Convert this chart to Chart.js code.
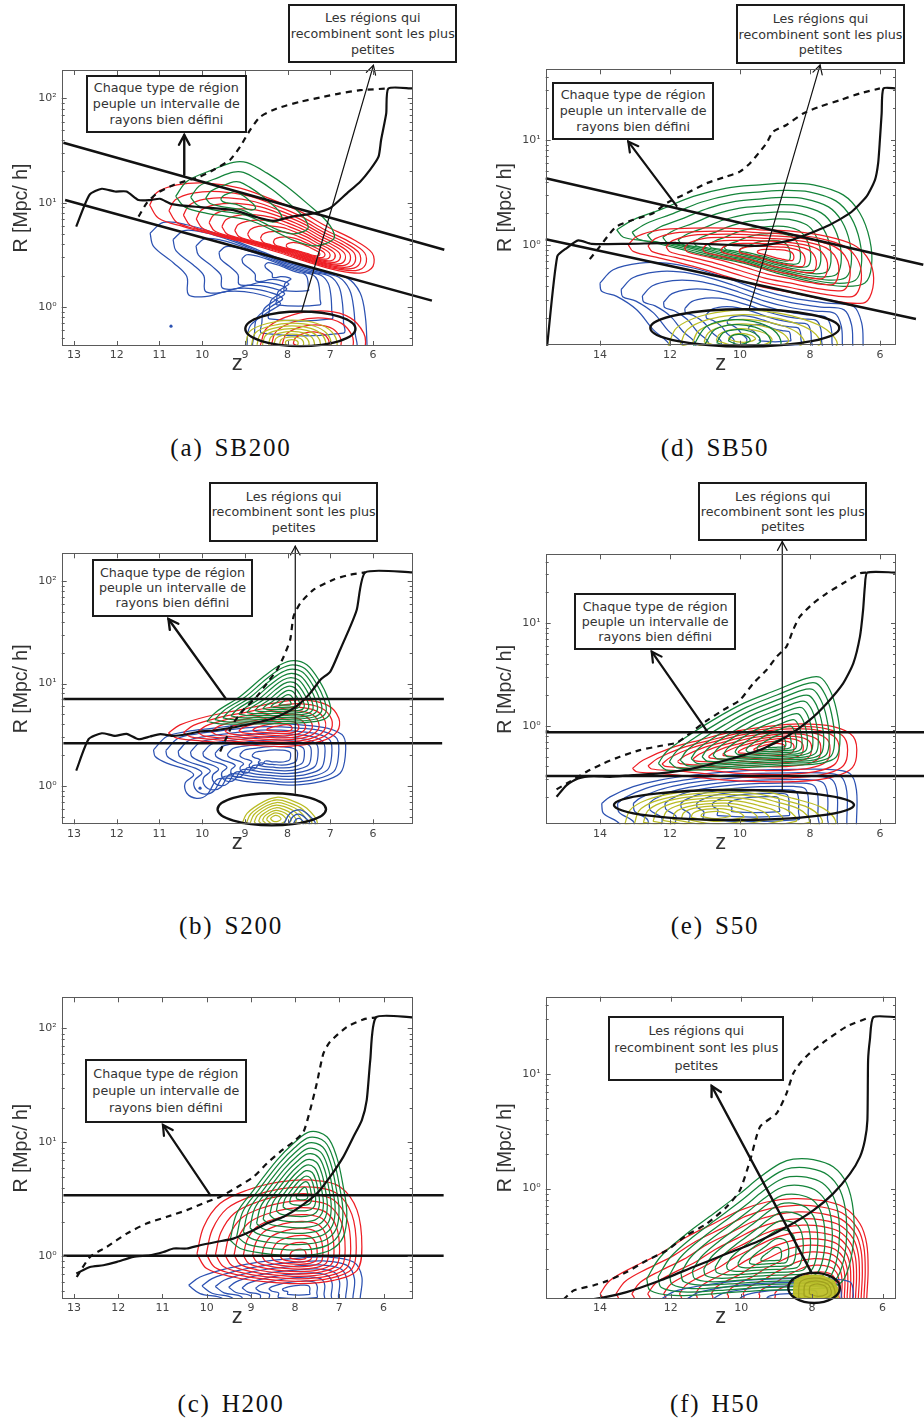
<!DOCTYPE html>
<html><head><meta charset="utf-8">
<script src="https://cdn.jsdelivr.net/npm/chart.js@4.4.0/dist/chart.umd.min.js"></script>
<style>
body{margin:0;background:#fff;width:924px;height:1425px;position:relative;overflow:hidden;}
.box{position:absolute;box-sizing:border-box;border:2px solid #1a1a1a;background:#fff;display:flex;flex-direction:column;justify-content:center;align-items:center;font-family:'DejaVu Sans';font-size:12.7px;color:#333;white-space:nowrap;overflow:visible;}
.cap{position:absolute;width:240px;text-align:center;font-family:'Liberation Serif';font-size:25px;line-height:30px;color:#111;letter-spacing:1.8px;word-spacing:3px;}
</style></head><body>
<script>
// ---------- tick values ----------
const xTicksLeft = [13,12,11,10,9,8,7,6];
const xTicksRight = [14,12,10,8,6];
const yTicksLeft = [0.5,0.6,0.7,0.8,0.9,1,2,3,4,5,6,7,8,9,10,20,30,40,50,60,70,80,90,100];
const yTicksRight = [0.2,0.3,0.4,0.5,0.6,0.7,0.8,0.9,1,2,3,4,5,6,7,8,9,10,20,30,40];
const yDecadeLabels = {0.1:'10⁻¹',1:'10⁰',10:'10¹',100:'10²'};

// ---------- panel (a) SB200 ----------
const a_solid = [[12.95,5.9],[12.64,11.9],[12.35,13.6],[12.04,12.8],[11.77,12.8],[11.49,10.6],[11.22,10.6],[10.99,10.9],[10.71,9.7],[10.05,9.06],[9.27,8.5],[8.80,7.4],[8.33,6.7],[7.86,7.4],[7.39,7.9],[7.0,8.9],[6.61,12.3],[6.30,15.9],[6.07,20.6],[5.87,27.6],[5.81,39.9],[5.69,71.8],[5.64,124.7],[5.07,124.7]];
const a_dashed = [[11.49,7.36],[11.30,9.9],[11.06,12.3],[10.67,14.8],[10.05,17.8],[9.74,20.6],[9.35,25.7],[9.11,34.5],[8.88,49.8],[8.64,66.7],[8.25,80.2],[7.71,92.8],[7.24,102],[6.77,112],[6.30,120],[5.64,124.7]];
const a_lineUpper = [[13.25,37.6],[4.33,3.53]];
const a_lineLower = [[13.21,10.6],[4.62,1.15]];
const a_red = [[11.23,9.5],[11.06,12.5],[10.59,14.8],[9.89,15.4],[9.11,13.8],[8.33,10.6],[7.70,8.2],[7.08,5.9],[6.45,4.41],[6.02,3.29],[6.0,2.45],[6.26,2.12],[6.84,2.24],[7.47,2.64],[8.17,3.29],[8.95,4.1],[9.73,4.92],[10.44,5.9],[11.02,7.1]];
const a_green = [[10.62,11.5],[10.36,16.0],[9.73,20.9],[9.27,24.4],[8.95,24.2],[8.48,19.2],[8.02,14.3],[7.55,9.9],[7.08,6.6],[6.90,4.75],[7.04,4.16],[7.39,3.86],[7.86,4.35],[8.33,5.4],[8.88,6.75],[9.42,7.4],[9.89,7.9],[10.40,9.06]];
const a_blue = [[11.22,5.1],[10.91,6.46],[10.36,6.14],[9.58,4.92],[8.80,3.67],[8.02,2.74],[7.23,2.19],[6.61,1.90],[6.30,1.36],[6.18,0.814],[6.14,0.427],[6.14,0.3],[8.95,0.3],[8.95,0.427],[8.88,0.653],[8.48,0.877],[8.17,1.09],[8.80,1.36],[9.42,1.41],[9.89,1.26],[10.32,1.31],[10.36,1.96],[10.67,2.64],[11.14,3.81]];
const a_yellow = [[8.99,0.427],[8.88,0.585],[8.48,0.693],[7.90,0.745],[7.31,0.693],[6.96,0.573],[6.84,0.427],[7.0,0.313],[7.90,0.27],[8.80,0.313]];
const a_redLow = [[8.64,0.427],[8.48,0.63],[7.86,0.845],[7.08,0.91],[6.53,0.785],[6.22,0.564],[6.18,0.427],[6.30,0.313],[7.70,0.27]];
const a_blueDot = [[10.73,0.653]];

// ---------- panel (b) S200 ----------
const b_solid = [[12.95,1.41],[12.66,2.86],[12.35,3.27],[12.04,3.08],[11.77,3.23],[11.49,2.86],[11.22,3.04],[10.98,3.2],[10.67,3.08],[10.36,3.2],[10.05,3.4],[9.73,3.48],[9.27,3.72],[8.80,4.1],[8.33,4.59],[7.94,5.46],[7.70,6.44],[7.47,8.07],[7.23,10.9],[7.0,13.1],[6.77,21.4],[6.53,36.2],[6.38,52.7],[6.18,122],[5.07,122]];
const b_dashed = [[9.58,2.17],[9.42,3.04],[9.27,4.1],[9.03,5.54],[8.72,7.48],[8.48,10.1],[8.25,13.6],[8.09,18.4],[7.94,26.8],[7.86,45.4],[7.70,61.3],[7.39,82.7],[6.92,104],[6.53,116],[6.18,122]];
const b_lineUpper = [[13.25,7.05],[4.34,7.05]];
const b_lineLower = [[13.25,2.61],[4.38,2.61]];
const b_green = [[9.89,4.26],[9.66,5.34],[9.11,7.48],[8.56,11.7],[8.17,15.3],[7.86,16.8],[7.55,15.3],[7.27,10.9],[7.04,6.94],[7.0,5.14],[7.23,4.36],[7.86,4.1],[8.80,4.04],[9.58,4.04]];
const b_red = [[10.79,3.28],[10.52,3.95],[9.89,4.77],[9.11,5.54],[8.33,6.44],[7.70,6.94],[7.08,6.2],[6.80,4.59],[6.84,3.4],[7.23,2.72],[8.02,2.43],[8.95,2.52],[9.89,2.72],[10.59,2.93]];
const b_blue = [[11.14,2.25],[10.83,3.04],[10.36,3.4],[9.73,3.67],[9.11,3.95],[8.48,4.1],[7.70,3.95],[7.08,3.67],[6.69,3.04],[6.65,1.94],[6.77,1.33],[7.23,1.10],[7.86,1.02],[8.48,1.06],[8.95,1.10],[9.42,1.19],[9.66,1.15],[9.89,0.817],[10.13,0.757],[10.36,0.848],[10.40,1.06],[10.20,1.28],[10.36,1.44],[10.83,1.67],[11.10,1.94]];
const b_yellow = [[9.07,0.421],[8.95,0.54],[8.56,0.703],[8.25,0.775],[7.94,0.73],[7.55,0.605],[7.31,0.421],[7.86,0.296],[8.56,0.296]];
const b_blueLow = [[8.09,0.421],[7.94,0.54],[7.70,0.582],[7.47,0.501],[7.35,0.421],[7.70,0.319]];
const b_blueDot = [[10.05,0.95]];

// ---------- panel (c) H200 ----------
const c_solid = [[12.95,0.705],[12.64,0.805],[12.34,0.834],[12.03,0.892],[11.66,0.987],[11.28,1.02],[10.98,1.09],[10.75,1.17],[10.45,1.17],[10.15,1.25],[9.77,1.34],[9.40,1.43],[9.02,1.64],[8.64,1.94],[8.26,2.22],[7.89,2.71],[7.51,3.55],[7.21,4.98],[6.91,7.46],[6.68,11.2],[6.49,15.7],[6.38,23.5],[6.30,52.7],[6.17,125],[5.34,125]];
const c_dashed = [[12.94,0.658],[12.64,0.987],[12.26,1.21],[11.81,1.58],[11.36,1.94],[10.90,2.22],[10.45,2.54],[10.0,3.0],[9.70,3.32],[9.24,4.2],[8.94,4.98],[8.64,6.52],[8.34,8.26],[8.04,10.1],[7.81,12.4],[7.66,19.2],[7.51,32.9],[7.36,60.3],[7.21,76.3],[6.83,103],[6.45,120],[6.17,125]];
const c_lineUpper = [[13.24,3.44],[4.64,3.44]];
const c_lineLower = [[13.24,1.01],[4.64,1.01]];
const c_green = [[9.47,1.38],[9.32,2.37],[8.94,3.8],[8.41,6.97],[8.04,9.77],[7.66,12.4],[7.28,11.2],[7.06,7.46],[6.91,4.06],[6.83,2.37],[6.91,1.48],[7.21,1.13],[7.74,1.02],[8.26,1.02],[8.79,1.07],[9.24,1.17]];
const c_red = [[10.22,1.05],[10.07,1.81],[9.70,2.9],[9.09,3.8],[8.34,4.5],[7.59,4.65],[6.98,4.06],[6.60,2.54],[6.49,1.21],[6.60,0.753],[7.13,0.615],[7.89,0.575],[8.64,0.595],[9.40,0.658],[10.0,0.78]];
const c_blue = [[10.41,0.556],[10.15,0.658],[9.55,0.78],[8.79,0.892],[8.04,0.954],[7.28,0.987],[6.68,0.892],[6.49,0.658],[6.53,0.419],[6.53,0.3],[9.62,0.3],[9.62,0.419],[10.15,0.47]];

// ---------- panel (d) SB50 ----------
const d_solid = [[15.52,0.1],[15.22,0.774],[14.95,0.93],[14.62,1.10],[14.24,1.02],[13.24,1.02],[11.81,1.04],[10.38,1.0],[9.43,0.98],[8.48,1.12],[7.52,1.50],[6.86,2.0],[6.38,2.89],[6.14,4.16],[6.05,6.0],[6.0,10],[5.95,17.9],[5.90,31.0],[5.54,31.0]];
const d_dashed = [[14.29,0.73],[14.0,0.964],[13.71,1.29],[13.52,1.50],[13.05,1.73],[12.48,2.0],[12.10,2.49],[11.52,3.1],[10.95,3.87],[10.38,4.48],[10.0,4.99],[9.71,6.0],[9.43,7.74],[9.24,9.3],[9.05,12.0],[8.67,13.9],[8.19,17.9],[7.71,20.8],[7.14,24.0],[6.57,27.8],[6.0,31.0]];
const d_lineUpper = [[15.55,4.31],[4.76,0.645]];
const d_lineLower = [[15.55,1.13],[4.97,0.196]];
const d_green = [[13.52,1.39],[13.05,1.73],[12.29,2.15],[11.33,2.89],[10.38,3.47],[9.43,3.73],[8.67,3.87],[7.90,3.73],[7.05,2.99],[6.57,2.0],[6.29,1.12],[6.24,0.622],[6.43,0.431],[7.05,0.401],[8.0,0.448],[8.95,0.537],[9.90,0.669],[10.86,0.774],[11.81,0.93],[12.67,1.08],[13.33,1.18]];
const d_red = [[13.19,1.0],[12.95,1.2],[12.29,1.39],[11.33,1.44],[10.38,1.44],[9.43,1.39],[8.48,1.34],[7.52,1.2],[6.76,1.0],[6.38,0.774],[6.19,0.537],[6.24,0.347],[6.48,0.278],[7.52,0.299],[8.48,0.347],[9.43,0.401],[10.38,0.5],[11.33,0.622],[12.29,0.746],[13.05,0.865]];
const d_blue = [[14.0,0.431],[13.62,0.578],[12.86,0.669],[12.10,0.669],[11.33,0.6],[10.38,0.482],[9.43,0.373],[8.48,0.31],[7.52,0.278],[6.76,0.259],[6.52,0.179],[6.48,0.109],[6.48,0.07],[12.0,0.07],[12.0,0.109],[12.48,0.155],[12.95,0.24],[13.52,0.322],[13.95,0.36]];
const d_yellow = [[12.05,0.109],[11.81,0.161],[11.14,0.208],[10.19,0.237],[9.24,0.232],[8.29,0.2],[7.52,0.155],[7.24,0.109],[8.48,0.0746],[10.38,0.0746]];
const d_greenLow = [[11.33,0.109],[10.95,0.167],[10.19,0.193],[9.43,0.179],[8.95,0.144],[8.86,0.109],[10.1,0.08]];

// ---------- panel (e) S50 ----------
const e_solid = [[15.24,0.202],[14.95,0.263],[14.62,0.306],[14.19,0.322],[13.71,0.317],[13.05,0.33],[12.29,0.342],[11.33,0.383],[10.38,0.462],[9.43,0.578],[8.67,0.781],[8.0,1.14],[7.52,1.65],[7.05,2.59],[6.76,4.06],[6.57,7.41],[6.48,13.5],[6.43,22.8],[6.36,31.3],[5.54,31.3]];
const e_dashed = [[15.24,0.239],[14.86,0.284],[14.38,0.355],[13.90,0.428],[13.43,0.498],[12.86,0.578],[12.29,0.633],[11.81,0.682],[11.43,0.842],[10.95,1.12],[10.48,1.42],[10.0,1.78],[9.62,2.59],[9.24,3.5],[8.95,4.72],[8.67,5.92],[8.48,8.61],[8.29,11.6],[7.90,15.7],[7.52,19.6],[7.05,24.6],[6.57,30.8],[6.36,31.3]];
const e_lineUpper = [[15.55,0.861],[4.74,0.861]];
const e_lineLower = [[15.55,0.322],[4.74,0.322]];
const e_green = [[12.33,0.428],[12.10,0.557],[11.52,0.781],[10.76,1.14],[9.90,1.65],[8.95,2.23],[8.10,2.9],[7.71,2.97],[7.43,2.23],[7.24,1.42],[7.14,0.781],[7.24,0.498],[7.71,0.428],[8.48,0.413],[9.43,0.397],[10.38,0.383],[11.33,0.369],[12.10,0.369]];
const e_red = [[13.07,0.383],[12.76,0.462],[12.0,0.601],[11.14,0.724],[10.19,0.874],[9.24,0.978],[8.29,1.04],[7.33,0.978],[6.76,0.781],[6.67,0.498],[6.86,0.369],[7.52,0.306],[8.48,0.284],[9.43,0.284],[10.38,0.294],[11.33,0.317],[12.29,0.342],[12.95,0.355]];
const e_blue = [[13.95,0.174],[13.71,0.202],[13.05,0.254],[12.29,0.294],[11.33,0.33],[10.38,0.355],[9.43,0.369],[8.48,0.374],[7.52,0.374],[6.86,0.342],[6.67,0.235],[6.67,0.1086],[6.67,0.07],[13.43,0.07],[13.43,0.1086],[13.90,0.139]];
const e_yellow = [[13.29,0.1086],[13.14,0.15],[12.67,0.188],[11.90,0.218],[10.95,0.235],[10.0,0.239],[9.24,0.226],[8.48,0.195],[7.71,0.162],[7.33,0.129],[7.29,0.1086],[10.38,0.0763]];

// ---------- panel (f) H50 ----------
const f_solid = [[14.6,0.104],[14.0,0.111],[13.25,0.125],[12.30,0.158],[11.36,0.207],[10.42,0.27],[9.47,0.353],[8.72,0.462],[7.96,0.646],[7.40,0.904],[6.92,1.35],[6.64,1.89],[6.50,2.65],[6.43,3.96],[6.41,13.2],[6.36,19.8],[6.26,31.3],[5.62,31.3]];
const f_dashed = [[15.04,0.1076],[14.75,0.129],[14.19,0.143],[13.81,0.156],[13.25,0.187],[12.68,0.236],[12.11,0.289],[11.55,0.391],[10.98,0.494],[10.42,0.691],[10.04,0.966],[9.75,1.77],[9.47,3.46],[9.0,4.53],[8.72,6.78],[8.53,10.1],[8.34,12.4],[8.06,15.2],[7.58,19.8],[7.02,25.9],[6.36,31.3]];
const f_green = [[12.68,0.163],[12.30,0.252],[11.55,0.404],[10.79,0.604],[10.04,0.904],[9.47,1.26],[8.91,1.65],[8.53,1.81],[7.96,1.79],[7.40,1.55],[7.02,1.11],[6.83,0.646],[6.83,0.33],[7.02,0.181],[7.30,0.143],[8.06,0.133],[9.47,0.129],[10.79,0.121],[11.92,0.117],[12.58,0.129]];
const f_red = [[14.0,0.121],[13.72,0.158],[13.06,0.207],[12.30,0.27],[11.55,0.378],[10.79,0.494],[10.04,0.646],[9.28,0.764],[8.53,0.818],[7.77,0.791],[7.11,0.691],[6.64,0.494],[6.45,0.33],[6.41,0.193],[6.45,0.1076],[6.45,0.08],[13.91,0.08],[13.91,0.1076]];
const f_blue = [[12.30,0.1076],[11.83,0.129],[10.42,0.153],[9.0,0.163],[7.58,0.163],[6.92,0.153],[6.83,0.121],[6.88,0.1076],[9.47,0.0807]];
const f_yellow = [[8.53,0.1076],[8.48,0.158],[8.15,0.175],[7.77,0.175],[7.40,0.158],[7.25,0.129],[7.30,0.1076],[7.9,0.095]];

// ---------- colours ----------
const RED='rgb(238,30,36)', GREEN='rgb(20,132,58)', BLUE='rgb(44,82,178)', YELLOW='rgb(186,188,36)', BLACK='#111';

// nested contour levels: outline, shrunk toward the peak
function rings(outer, peak, scales, color, w){
  const Lc = Math.log10(peak[1]);
  return scales.map(s => {
    const pts = outer.map(([z,R]) => ({x: peak[0] + (z-peak[0])*s, y: Math.pow(10, Lc + (Math.log10(R)-Lc)*s)}));
    pts.push(pts[0]);
    return {data: pts, showLine:true, borderColor:color, borderWidth:w||1.25, pointRadius:0, tension:0.35, fill:false};
  });
}
function curve(arr, color, w, dash, noclip){
  const ds = {data: arr.map(([x,y])=>({x,y})), showLine:true, borderColor:color, borderWidth:w, borderDash:dash||[], pointRadius:0, tension:0.2, fill:false};
  if (noclip) ds.clip = false;
  return ds;
}
function dot(arr, color){
  return {data: arr.map(([x,y])=>({x,y})), showLine:false, pointRadius:1.6, pointBackgroundColor:color, pointBorderWidth:0};
}

const panels = [
 { id:'a', cx:0, cy:0, area:[61.7,70,412.7,346], xr:[5.07,13.29], yr:[0.4217,187.5], xt:xTicksLeft, yt:yTicksLeft,
   layers:[ ...rings(a_blue,[7.86,2.12],[1,0.84,0.68,0.52,0.36,0.2],BLUE),
            ...rings(a_red,[7.47,3.29],[1,0.88,0.79,0.71,0.63,0.55,0.47,0.39,0.31,0.23,0.15],RED),
            ...rings(a_green,[9.27,10.6],[1,0.74,0.48,0.22],GREEN),
            ...rings(a_redLow,[7.47,0.453],[1,0.78,0.56,0.34],RED),
            ...rings(a_yellow,[7.90,0.453],[1,0.87,0.75,0.63,0.5,0.38,0.26,0.14],YELLOW),
            dot(a_blueDot,BLUE),
            curve(a_dashed,BLACK,2.2,[6,5]), curve(a_solid,BLACK,2.2),
            curve(a_lineUpper,BLACK,2.5,null,true), curve(a_lineLower,BLACK,2.5,null,true)],
   ellipses:[[7.70,0.616,1.29,0.166]],
   arrows:[[[10.42,18.5],[10.42,44.5],2.4],[[7.67,0.908],[5.99,208],1.2]] },
 { id:'b', cx:0, cy:470, area:[61.7,553.3,412.7,824.3], xr:[5.07,13.29], yr:[0.4217,187.5], xt:xTicksLeft, yt:yTicksLeft,
   layers:[ ...rings(b_blue,[8.25,1.94],[1,0.9,0.8,0.7,0.6,0.5,0.4,0.3,0.2],BLUE),
            ...rings(b_red,[8.09,3.6],[1,0.87,0.75,0.63,0.51,0.39,0.27,0.15],RED),
            ...rings(b_green,[8.02,6.44],[1,0.9,0.8,0.7,0.6,0.5,0.4,0.3,0.2,0.1],GREEN),
            ...rings(b_yellow,[8.29,0.483],[1,0.87,0.75,0.63,0.5,0.38,0.26,0.14],YELLOW),
            ...rings(b_blueLow,[7.74,0.438],[1,0.66,0.33],BLUE),
            dot(b_blueDot,BLUE),
            curve(b_dashed,BLACK,2.2,[6,5]), curve(b_solid,BLACK,2.2),
            curve(b_lineUpper,BLACK,2.5,null,true), curve(b_lineLower,BLACK,2.5,null,true)],
   ellipses:[[8.37,0.591,1.27,0.157]],
   arrows:[[[9.44,7.05],[10.79,42.8],2.4],[[7.82,0.847],[7.82,220],1.2]] },
 { id:'c', cx:0, cy:950, area:[61.7,997.3,412.7,1299], xr:[5.34,13.28], yr:[0.4217,187.5], xt:xTicksLeft, yt:yTicksLeft,
   layers:[ ...rings(c_blue,[7.89,0.502],[1,0.88,0.76,0.64,0.52,0.4,0.28,0.16],BLUE),
            ...rings(c_red,[7.89,0.987],[1,0.91,0.82,0.73,0.64,0.55,0.46,0.37,0.28,0.19,0.1],RED),
            ...rings(c_green,[7.81,3.55],[1,0.91,0.82,0.73,0.64,0.55,0.46,0.37,0.28,0.19,0.1],GREEN),
            curve(c_dashed,BLACK,2.2,[6,5]), curve(c_solid,BLACK,2.2),
            curve(c_lineUpper,BLACK,2.5,null,true), curve(c_lineLower,BLACK,2.5,null,true)],
   ellipses:[],
   arrows:[[[9.92,3.44],[10.99,14.2],2.2]] },
 { id:'d', cx:462, cy:0, area:[545.7,69.3,896,345.7], xr:[5.54,15.55], yr:[0.1089,47.2], xt:xTicksRight, yt:yTicksRight,
   layers:[ ...rings(d_blue,[8.95,0.134],[1,0.88,0.76,0.64,0.52,0.4,0.28,0.16],BLUE),
            ...rings(d_green,[9.14,0.803],[1,0.9,0.8,0.7,0.6,0.5,0.4,0.3,0.2],GREEN),
            ...rings(d_red,[8.86,0.833],[1,0.87,0.75,0.63,0.51,0.39,0.27,0.15],RED),
            ...rings(d_yellow,[10.0,0.129],[1,0.83,0.66,0.5,0.33,0.16],YELLOW),
            ...rings(d_greenLow,[10.0,0.125],[1,0.75,0.5,0.25],GREEN),
            curve(d_dashed,BLACK,2.2,[6,5]), curve(d_solid,BLACK,2.2),
            curve(d_lineUpper,BLACK,2.5,null,true), curve(d_lineLower,BLACK,2.5,null,true)],
   ellipses:[[9.86,0.161,2.70,0.178]],
   arrows:[[[11.81,2.35],[13.19,9.64],2.2],[[9.73,0.249],[7.71,51.8],1.2]] },
 { id:'e', cx:462, cy:470, area:[545.7,554.3,896,824.3], xr:[5.54,15.55], yr:[0.1089,47.2], xt:xTicksRight, yt:yTicksRight,
   layers:[ ...rings(e_blue,[9.43,0.174],[1,0.9,0.8,0.7,0.6,0.5,0.4,0.3,0.2],BLUE),
            ...rings(e_red,[9.05,0.624],[1,0.89,0.79,0.68,0.57,0.46,0.36,0.25,0.14],RED),
            ...rings(e_green,[8.86,0.647],[1,0.91,0.82,0.73,0.64,0.55,0.46,0.37,0.28,0.19,0.1],GREEN),
            ...rings(e_yellow,[10.76,0.134],[1,0.89,0.79,0.68,0.57,0.46,0.36,0.25,0.14],YELLOW),
            curve(e_dashed,BLACK,2.2,[6,5]), curve(e_solid,BLACK,2.2),
            curve(e_lineUpper,BLACK,2.5,null,true), curve(e_lineLower,BLACK,2.5,null,true)],
   ellipses:[[10.17,0.168,3.43,0.147]],
   arrows:[[[10.93,0.874],[12.52,5.28],2.2],[[8.79,0.235],[8.79,62.8],1.2]] },
 { id:'f', cx:462, cy:950, area:[545.7,996.7,896,1299], xr:[5.62,15.54], yr:[0.1089,47.2], xt:xTicksRight, yt:yTicksRight,
   layers:[ ...rings(f_red,[7.58,0.121],[1,0.93,0.86,0.79,0.72,0.65,0.58,0.51,0.44,0.37,0.3,0.23],RED),
            ...rings(f_blue,[8.53,0.113],[1,0.8,0.6,0.4,0.2],BLUE),
            ...rings(f_green,[9.09,0.252],[1,0.91,0.82,0.73,0.64,0.55,0.46,0.37,0.28,0.19,0.1],GREEN),
            Object.assign(curve(f_yellow.concat([f_yellow[0]]),YELLOW,1.2), {fill:'shape', backgroundColor:'rgba(190,192,40,0.95)'}),
            ...rings(f_yellow,[7.77,0.13],[0.8,0.6,0.4],'rgb(160,160,30)'),
            curve(f_dashed,BLACK,2.2,[6,5]), curve(f_solid,BLACK,2.2)],
   ellipses:[[7.94,0.136,0.73,0.131]],
   arrows:[[[8.01,0.184],[10.84,7.85],2.4]] }
];

const boxes = [
 [86,75,246.7,132.7,15.7,['Chaque type de région','peuple un intervalle de','rayons bien défini']],
 [288.3,4,457.3,63.3,15.8,['Les régions qui','recombinent sont les plus','petites']],
 [552.3,82.3,714,140,15.8,['Chaque type de région','peuple un intervalle de','rayons bien défini']],
 [736,4.3,905,64.3,15.5,['Les régions qui','recombinent sont les plus','petites']],
 [91.7,559.3,253.3,616.7,15,['Chaque type de région','peuple un intervalle de','rayons bien défini']],
 [209,482.3,378.3,541.7,15.3,['Les régions qui','recombinent sont les plus','petites']],
 [574.3,592.7,736,650,15,['Chaque type de région','peuple un intervalle de','rayons bien défini']],
 [698.3,482.3,867.3,540.7,15,['Les régions qui','recombinent sont les plus','petites']],
 [85,1059,246.7,1122.7,17,['Chaque type de région','peuple un intervalle de','rayons bien défini']],
 [608.3,1015.7,784.3,1081,17.8,['Les régions qui','recombinent sont les plus','petites']]
];
const captions = [[231,448,'(a) SB200'],[715,448,'(d) SB50'],[231,926,'(b) S200'],[715,926,'(e) S50'],[231,1404,'(c) H200'],[715,1404,'(f) H50']];

function arrowHead(ctx,x0,y0,x1,y1,len){
  const a = Math.atan2(y1-y0,x1-x0), sp = 0.5;
  ctx.beginPath();
  ctx.moveTo(x1 - len*Math.cos(a-sp), y1 - len*Math.sin(a-sp));
  ctx.lineTo(x1,y1);
  ctx.lineTo(x1 - len*Math.cos(a+sp), y1 - len*Math.sin(a+sp));
  ctx.stroke();
}

function makePanel(p){
  const W=462, H=400, YW=55, XH=35;
  const div = document.createElement('div');
  div.style.cssText = `position:absolute;left:${p.cx}px;top:${p.cy}px;width:${W}px;height:${H}px;`;
  const cv = document.createElement('canvas'); cv.width=W; cv.height=H;
  cv.style.width=W+'px'; cv.style.height=H+'px';
  div.appendChild(cv); document.body.appendChild(div);
  const pad = {left:p.area[0]-p.cx-YW, top:p.area[1]-p.cy, right:p.cx+W-p.area[2], bottom:p.cy+H-p.area[3]-XH};
  const frame = { id:'frame'+p.id, afterDraw(chart){
    const {ctx, chartArea:ca, scales:{x,y}} = chart;
    ctx.save(); ctx.strokeStyle='#5a5a5a'; ctx.lineWidth=1;
    ctx.strokeRect(Math.round(ca.left)+0.5, Math.round(ca.top)+0.5, Math.round(ca.right-ca.left)-1, Math.round(ca.bottom-ca.top)-1);
    ctx.beginPath();
    x.ticks.forEach(t=>{ const px=Math.round(x.getPixelForValue(t.value))+0.5;
      ctx.moveTo(px,ca.bottom); ctx.lineTo(px,ca.bottom-5); ctx.moveTo(px,ca.top); ctx.lineTo(px,ca.top+5); });
    y.ticks.forEach(t=>{ const py=Math.round(y.getPixelForValue(t.value))+0.5;
      const major = Math.abs(Math.log10(t.value)-Math.round(Math.log10(t.value)))<1e-6; const L = major?5:3;
      ctx.moveTo(ca.left,py); ctx.lineTo(ca.left+L,py); ctx.moveTo(ca.right,py); ctx.lineTo(ca.right-L,py); });
    ctx.stroke(); ctx.restore();
  }};
  const annot = { id:'annot'+p.id, afterDatasetsDraw(chart){
    const {ctx, scales:{x,y}} = chart;
    ctx.save(); ctx.strokeStyle='#111'; ctx.lineCap='round';
    p.ellipses.forEach(([zc,Rc,hz,hd])=>{
      const cx=x.getPixelForValue(zc), cy=y.getPixelForValue(Rc);
      const rx=Math.abs(x.getPixelForValue(zc-hz)-cx), ry=Math.abs(y.getPixelForValue(Rc*Math.pow(10,hd))-cy);
      ctx.lineWidth=2.4; ctx.beginPath(); ctx.ellipse(cx,cy,rx,ry,0,0,Math.PI*2); ctx.stroke();
    });
    p.arrows.forEach(([s,e,w])=>{
      const x0=x.getPixelForValue(s[0]), y0=y.getPixelForValue(s[1]), x1=x.getPixelForValue(e[0]), y1=y.getPixelForValue(e[1]);
      ctx.lineWidth=w; ctx.beginPath(); ctx.moveTo(x0,y0); ctx.lineTo(x1,y1); ctx.stroke();
      arrowHead(ctx,x0,y0,x1,y1, w>2?11:10);
    });
    ctx.restore();
  }};
  new Chart(cv, {
    type:'scatter',
    data:{datasets: p.layers.slice().reverse()},
    options:{
      responsive:false, animation:false, events:[],
      layout:{padding:pad},
      plugins:{legend:{display:false}, tooltip:{enabled:false}},
      scales:{
        x:{type:'linear', reverse:true, min:p.xr[0], max:p.xr[1],
           afterBuildTicks:s=>{ s.ticks = p.xt.map(v=>({value:v})); },
           afterFit:s=>{ s.height = XH; },
           grid:{display:false, drawTicks:false}, border:{display:false},
           ticks:{padding:3, color:'#444', font:{family:'DejaVu Sans', size:11}, autoSkip:false, maxRotation:0},
           title:{display:true, text:'z', color:'#333', font:{family:'Liberation Sans', size:22}, padding:{top:0,bottom:3.5}}},
        y:{type:'logarithmic', min:p.yr[0], max:p.yr[1],
           afterBuildTicks:s=>{ s.ticks = p.yt.map(v=>({value:v})); },
           afterFit:s=>{ s.width = YW; },
           grid:{display:false, drawTicks:false}, border:{display:false},
           ticks:{padding:5, color:'#444', font:{family:'DejaVu Sans', size:11}, autoSkip:false,
                  callback:(v)=> yDecadeLabels[v] || ''},
           title:{display:true, text:'R [Mpc/ h]', color:'#333', font:{family:'Liberation Sans', size:19.5}, padding:{top:3.2,bottom:0}}}
      }
    },
    plugins:[frame, annot]
  });
}

panels.forEach(makePanel);

boxes.forEach(([l,t,r,b,lh,lines])=>{
  const d=document.createElement('div'); d.className='box';
  d.style.cssText=`left:${l}px;top:${t}px;width:${r-l}px;height:${b-t}px;line-height:${lh}px;`;
  lines.forEach(s=>{ const sp=document.createElement('div'); sp.textContent=s; d.appendChild(sp); });
  document.body.appendChild(d);
});
captions.forEach(([cx,cy,txt])=>{
  const d=document.createElement('div'); d.className='cap';
  d.style.left=(cx-120)+'px'; d.style.top=(cy-15)+'px'; d.textContent=txt;
  document.body.appendChild(d);
});
</script>
</body></html>
